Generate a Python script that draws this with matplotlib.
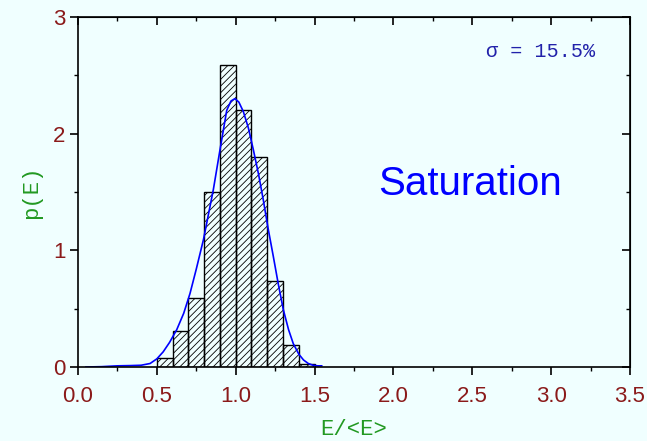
import numpy as np
import matplotlib.pyplot as plt

# histogram of E/<E> (bin edges 0.5..1.5, width 0.1)
bin_left = [0.5, 0.6, 0.7, 0.8, 0.9, 1.0, 1.1, 1.2, 1.3, 1.4]
bin_height = [0.08, 0.31, 0.59, 1.50, 2.59, 2.20, 1.80, 0.74, 0.19, 0.025]

# fitted curve, points
curve_x = [0.05, 0.15, 0.25, 0.33, 0.40, 0.457, 0.50, 0.54, 0.58, 0.626, 0.67, 0.71, 0.75,
           0.795, 0.858, 0.90, 0.943, 0.97, 0.995, 1.02, 1.048, 1.08, 1.112, 1.145, 1.175,
           1.205, 1.238, 1.27, 1.302, 1.335, 1.365, 1.40, 1.43, 1.46, 1.49, 1.52, 1.545]
curve_y = [0.0, 0.003, 0.01, 0.012, 0.015, 0.03, 0.07, 0.13, 0.21, 0.32, 0.46, 0.63, 0.84,
           1.09, 1.52, 1.86, 2.20, 2.28, 2.30, 2.27, 2.19, 2.05, 1.86, 1.65, 1.43,
           1.19, 0.95, 0.71, 0.49, 0.32, 0.20, 0.11, 0.06, 0.03, 0.015, 0.01, 0.01]

bg = '#F0FFFF'
tick_col = '#8B1A1A'
lab_col = '#229922'

fig = plt.figure(figsize=(6.47, 4.41), dpi=100, facecolor=bg)
ax = fig.add_axes([0.1206, 0.1678, 0.8531, 0.7937], facecolor=bg)

plt.rcParams['hatch.linewidth'] = 0.6
ax.bar(bin_left, bin_height, width=0.1, align='edge', facecolor='none',
       edgecolor='black', hatch='/////', linewidth=1.0)
ax.plot(curve_x, curve_y, color='#0000FF', linewidth=1.2)

ax.set_xlim(0, 3.5)
ax.set_ylim(0, 3)
ax.set_xticks(np.arange(0, 3.51, 0.5))
ax.set_xticks(np.arange(0, 3.51, 0.25), minor=True)
ax.set_yticks([0, 1, 2, 3])
ax.set_yticks(np.arange(0, 3.01, 0.5), minor=True)
ax.set_xticklabels(['%.1f' % v for v in np.arange(0, 3.51, 0.5)])

ax.tick_params(which='major', direction='out', length=6, width=1.2,
               labelsize=16, labelcolor=tick_col)
ax.tick_params(axis='x', which='major', pad=8)
ax.tick_params(axis='y', which='major', pad=3)
ax.tick_params(which='minor', direction='out', length=3, width=1.0)
for lab in ax.get_xticklabels() + ax.get_yticklabels():
    lab.set_family('Liberation Sans')

# top and right: ticks pointing inward
top = ax.secondary_xaxis('top')
top.set_xticks(np.arange(0, 3.51, 0.5))
top.set_xticks(np.arange(0, 3.51, 0.25), minor=True)
top.tick_params(which='major', direction='in', length=6, width=1.2, labeltop=False)
top.tick_params(which='minor', direction='in', length=3, width=1.0)
right = ax.secondary_yaxis('right')
right.set_yticks([0, 1, 2, 3])
right.set_yticks(np.arange(0, 3.01, 0.5), minor=True)
right.tick_params(which='major', direction='in', length=6, width=1.2, labelright=False)
right.tick_params(which='minor', direction='in', length=3, width=1.0)

for s in ax.spines.values():
    s.set_linewidth(1.2)

ax.set_xlabel('E/<E>', family='Liberation Mono', fontsize=16, color=lab_col, labelpad=8)
ax.set_ylabel('p(E)', family='Liberation Mono', fontsize=16, color=lab_col, labelpad=8)

ax.text(2.59, 2.70, 'σ = 15.5%', family='Liberation Mono', fontsize=14.5,
        color='#2222AA', va='center', ha='left')
ax.text(2.485, 1.57, 'Saturation', family='Liberation Sans', fontsize=29,
        color='#0000FF', va='center', ha='center')

fig.savefig('out.png', dpi=100, facecolor=bg)
